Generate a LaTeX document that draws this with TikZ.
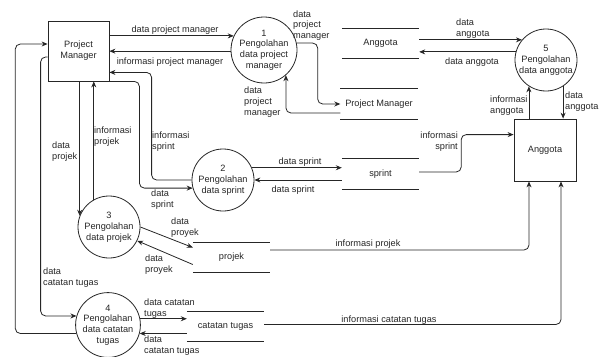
\documentclass[tikz,border=0pt]{standalone}
\usepackage{fontspec}
\setmainfont{Liberation Sans}
\usetikzlibrary{arrows.meta}
\begin{document}
\begin{tikzpicture}[x=1pt,y=-1pt,
  every node/.style={font=\fontsize{9.2}{10.8}\selectfont, text=black!85, inner sep=0pt},
  entity/.style={draw=black!85, line width=0.8pt, rectangle, align=center},
  process/.style={draw=black!85, line width=0.8pt, circle, align=center},
  storeline/.style={draw=black!85, line width=0.8pt},
  store/.style={rectangle, minimum width=77pt, minimum height=30pt,
    append after command={(\tikzlastnode.north west) edge[storeline] (\tikzlastnode.north east)
      (\tikzlastnode.south west) edge[storeline] (\tikzlastnode.south east)}},
  flow/.style={draw=black!85, line width=0.8pt, -{Stealth[length=6pt,width=5pt]}},
  elbow/.style={flow, rounded corners=5pt},
  lbl/.style={align=left, anchor=west},
]
\useasboundingbox (0,0) rectangle (599,356);

% external entities
\node[entity, minimum width=61pt, minimum height=60pt] (pm) at (78.5,51) {Project\\Manager};
\node[entity, minimum width=62pt, minimum height=62pt] (ang) at (545,150) {Anggota};

% processes
\node[process, minimum size=66pt] (c1) at (264,50) {1\\Pengolahan\\data project\\manager};
\node[process, minimum size=62pt] (c2) at (223,180) {2\\Pengolahan\\data sprint};
\node[process, minimum size=62pt] (c3) at (109,227) {3\\Pengolahan\\data projek};
\node[process, minimum size=60pt] (c4) at (108,325) {4\\Pengolahan\\data catatan\\tugas};
\node[process, minimum size=62pt] (c5) at (546,60) {5\\Pengolahan\\data anggota};

% data stores
\node[store] (sA) at (380.5,43.5) {Anggota};
\node[store] (sPM) at (379,104) {Project Manager};
\node[store] (sS) at (380.5,174) {sprint};
\node[store] (sP) at (231.5,257.5) {projek};
\node[store] (sC) at (225.5,326.5) {catatan tugas};

% project manager data flows
\draw[flow] (pm.east |- c1.155) -- (c1.155);
\draw[flow] (c1.182) -- (pm.east |- c1.182);
\draw[elbow] (c1.12) -- ++(21,0) |- (sPM.west);
\draw[elbow] ([yshift=-9pt]sPM.west) -| (c1.-49);

% anggota data flows
\draw[flow] (sA.east |- c5.140) -- (c5.140);
\draw[flow] (c5.165) -- (sA.east |- c5.165);
\draw[flow] (c5.-123 |- ang.north) -- (c5.-123);
\draw[flow] (c5.-57) -- (c5.-57 |- ang.north);

% sprint data flows
\draw[flow] (c2.23) -- (c2.23 -| sS.west);
\draw[flow] (sS.west |- c2.east) -- (c2.east);
\draw[elbow] ([yshift=2pt]sS.east) -- ++(42,0) |- ([yshift=-16pt]ang.north west);
\draw[elbow] (pm.south east) -- ++(30,0) |- (c2.195);
\draw[elbow] (c2.west) -- ++(-40,0) |- ([yshift=9pt]pm.south east);

% projek data flows
\draw[flow] (c3.159 |- pm.south) -- (c3.159);
\draw[flow] (c3.119) -- (c3.119 |- pm.south);
\draw[flow] (c3.east) -- ([yshift=10pt]sP.west);
\draw[flow] ([yshift=-7pt]sP.west) -- (c3.-26);
\draw[elbow] ([yshift=7.5pt]sP.east) -| ([xshift=-16pt]ang.south);

% catatan tugas data flows
\draw[flow] (c4.11.5) -- (c4.11.5 -| sC.west);
\draw[flow] (sC.west |- c4.-15.5) -- (c4.-15.5);
\draw[elbow] ([yshift=2pt]sC.east) -| ([xshift=16pt]ang.south);
\draw[elbow] ([yshift=-6pt]pm.west) -- ++(-7,0) |- (c4.164.5);
\draw[elbow] (c4.195.5) -- ++(-61,0) |- ([yshift=7pt]pm.west);

% flow labels
\node (t1) at (175,30) {data project manager};
\node (t2) at (170,62) {informasi project manager};
\node[lbl] (t3) at (293,25.5) {data\\project\\manager};
\node[lbl] (t4) at (244,102) {data\\project\\manager};
\node[lbl] (t5) at (456,29) {data\\anggota};
\node (t6) at (472,62) {data anggota};
\node[lbl] (t7) at (490,105.5) {informasi\\anggota};
\node[lbl] (t8) at (565,101.5) {data\\anggota};
\node[align=right, anchor=east] (t9) at (458,142) {informasi\\sprint};
\node (t10) at (300,162) {data sprint};
\node (t11) at (293,190) {data sprint};
\node[lbl] (t12) at (152,142) {informasi\\sprint};
\node[lbl] (t13) at (151,200) {data\\sprint};
\node[lbl] (t14) at (52,152) {data\\projek};
\node[lbl] (t15) at (94,136.5) {informasi\\projek};
\node[lbl] (t16) at (171,227.5) {data\\proyek};
\node[lbl] (t17) at (145,264.5) {data\\proyek};
\node (t18) at (368,244) {informasi projek};
\node[lbl] (t19) at (43,277.5) {data\\catatan tugas};
\node[lbl] (t20) at (144,309) {data catatan\\tugas};
\node[lbl] (t21) at (144,346) {data\\catatan tugas};
\node (t22) at (389,320) {informasi catatan tugas};
\end{tikzpicture}
\end{document}
